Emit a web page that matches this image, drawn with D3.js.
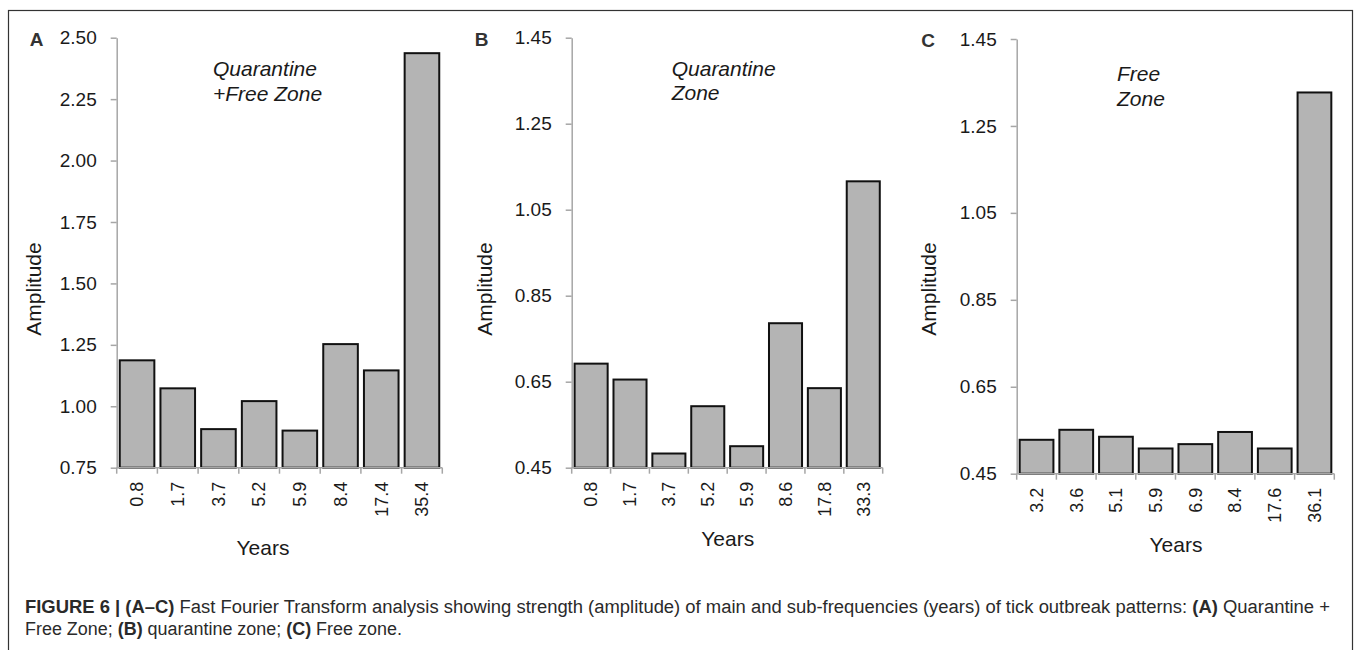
<!DOCTYPE html>
<html>
<head>
<meta charset="utf-8">
<script src="https://cdn.jsdelivr.net/npm/d3@7"></script>
<style>
  html, body { margin: 0; padding: 0; background: #fff; }
  svg { display: block; }
</style>
</head>
<body>
<svg id="chart" width="1356" height="650"></svg>
<script>
// ---- DATA ----
const catsA  = ["0.8", "1.7", "3.7", "5.2", "5.9", "8.4", "17.4", "35.4"];
const valsA  = [1.187, 1.073, 0.907, 1.021, 0.901, 1.253, 1.146, 2.437];
const ticksA = [0.75, 1.00, 1.25, 1.50, 1.75, 2.00, 2.25, 2.50];

const catsB  = ["0.8", "1.7", "3.7", "5.2", "5.9", "8.6", "17.8", "33.3"];
const valsB  = [0.692, 0.655, 0.483, 0.593, 0.500, 0.786, 0.635, 1.116];
const ticksB = [0.45, 0.65, 0.85, 1.05, 1.25, 1.45];

const catsC  = ["3.2", "3.6", "5.1", "5.9", "6.9", "8.4", "17.6", "36.1"];
const valsC  = [0.528, 0.551, 0.535, 0.508, 0.518, 0.546, 0.508, 1.327];
const ticksC = [0.45, 0.65, 0.85, 1.05, 1.25, 1.45];

const panelLetters = ["A", "B", "C"];
const annotations = [["Quarantine", "+Free Zone"], ["Quarantine", "Zone"], ["Free", "Zone"]];
const xTitle = "Years";
const yTitle = "Amplitude";

// ---- LAYOUT ----
const layouts = [
  { x0: 116.7, x1: 442.3, yTop: 37.7, yBot: 467.7, letterX: 36.7, letterY: 46, ampX: 41, ampY: 289,
    yearsX: 263, yearsY: 555, annX: 213, annY: [76, 100.7] },
  { x0: 571.7, x1: 882.7, yTop: 37.7, yBot: 467.7, letterX: 481.7, letterY: 46, ampX: 492, ampY: 289,
    yearsX: 727.7, yearsY: 546, annX: 671.7, annY: [75.5, 100] },
  { x0: 1016.7, x1: 1334.3, yTop: 39, yBot: 473.7, letterX: 928, letterY: 47, ampX: 936, ampY: 289,
    yearsX: 1176, yearsY: 552, annX: 1117, annY: [81, 106] }
];

const panels = [
  { cats: catsA, vals: valsA, ticks: ticksA },
  { cats: catsB, vals: valsB, ticks: ticksB },
  { cats: catsC, vals: valsC, ticks: ticksC }
];

const svg = d3.select("#chart");
const FONT = "'Liberation Sans', Arial, sans-serif";
const AXIS = "#a6a6a6";

// outer frame
svg.append("rect")
  .attr("x", 8.5).attr("y", 10.5).attr("width", 1344).attr("height", 650)
  .attr("fill", "none").attr("stroke", "#333").attr("stroke-width", 1.2);

panels.forEach((p, i) => {
  const L = layouts[i];
  const g = svg.append("g");

  const x = d3.scaleBand().domain(p.cats).range([L.x0, L.x1])
    .paddingInner(0.15).paddingOuter(0.075);
  const y = d3.scaleLinear().domain([p.ticks[0], p.ticks[p.ticks.length - 1]]).range([L.yBot, L.yTop]);

  // bars
  g.selectAll("rect.bar").data(p.vals).enter().append("rect")
    .attr("class", "bar")
    .attr("x", (d, j) => x(p.cats[j]))
    .attr("width", x.bandwidth())
    .attr("y", d => y(d))
    .attr("height", d => y(p.ticks[0]) - y(d))
    .attr("fill", "#b4b4b4")
    .attr("stroke", "#111")
    .attr("stroke-width", 2);

  // y axis
  const yAxis = d3.axisLeft(y).tickValues(p.ticks).tickFormat(d3.format(".2f"))
    .tickSize(6).tickSizeOuter(0).tickPadding(14);
  const ya = g.append("g").attr("transform", `translate(${L.x0},0)`).call(yAxis);
  ya.select(".domain").attr("stroke", AXIS).attr("stroke-width", 1.5);
  ya.selectAll(".tick line").attr("stroke", AXIS).attr("stroke-width", 1.5);
  ya.selectAll(".tick text").attr("font-family", FONT).attr("font-size", 19).attr("fill", "#1a1a1a");

  // x axis: line + boundary ticks
  const xa = g.append("g").attr("transform", `translate(0,${L.yBot})`);
  xa.append("line").attr("x1", L.x0).attr("x2", L.x1).attr("y1", 0).attr("y2", 0)
    .attr("stroke", AXIS).attr("stroke-width", 1.5);
  const step = x.step();
  const bounds = p.cats.map(c => x(c) - step * 0.075).concat([L.x1]);
  bounds[0] = L.x0;
  xa.selectAll("line.bt").data(bounds).enter().append("line").attr("class", "bt")
    .attr("x1", d => d).attr("x2", d => d).attr("y1", 0).attr("y2", 6)
    .attr("stroke", AXIS).attr("stroke-width", 1.5);
  xa.selectAll("text.cat").data(p.cats).enter().append("text").attr("class", "cat")
    .attr("transform", d => `translate(${x(d) + x.bandwidth() / 2},14) rotate(-90)`)
    .attr("text-anchor", "end").attr("dy", "0.35em")
    .attr("font-family", FONT).attr("font-size", 18).attr("fill", "#1a1a1a")
    .text(d => d);

  // titles
  g.append("text").attr("x", L.yearsX).attr("y", L.yearsY).attr("text-anchor", "middle")
    .attr("font-family", FONT).attr("font-size", 21).attr("fill", "#1a1a1a").text(xTitle);
  g.append("text").attr("transform", `translate(${L.ampX},${L.ampY}) rotate(-90)`)
    .attr("text-anchor", "middle")
    .attr("font-family", FONT).attr("font-size", 21).attr("fill", "#1a1a1a").text(yTitle);

  // panel letter
  g.append("text").attr("x", L.letterX).attr("y", L.letterY).attr("text-anchor", "middle")
    .attr("font-family", FONT).attr("font-size", 19).attr("font-weight", "bold")
    .attr("fill", "#333").text(panelLetters[i]);

  // annotation
  annotations[i].forEach((t, k) => {
    g.append("text").attr("x", L.annX).attr("y", L.annY[k])
      .attr("font-family", FONT).attr("font-size", 21).attr("font-style", "italic")
      .attr("fill", "#1a1a1a").text(t);
  });
});

// caption
const capFont = "'Liberation Sans', Arial, sans-serif";
const line1 = [
  ["FIGURE 6 | (A–C)", true], [" Fast Fourier Transform analysis showing strength (amplitude) of main and sub-frequencies (years) of tick outbreak patterns: ", false],
  ["(A)", true], [" Quarantine +", false]
];
const line2 = [["Free Zone; ", false], ["(B)", true], [" quarantine zone; ", false], ["(C)", true], [" Free zone.", false]];

function caption(parts, yPos, size) {
  const t = svg.append("text").attr("x", 25).attr("y", yPos)
    .attr("font-family", capFont).attr("font-size", size).attr("fill", "#2a2a2a")
    .attr("xml:space", "preserve");
  parts.forEach(([s, b]) => {
    t.append("tspan").attr("font-weight", b ? "bold" : "normal").text(s);
  });
  return t;
}
// size line 2 to match its measured width in the reference, then fit line 1
const t2 = caption(line2, 635, 16);
const w2 = t2.node().getComputedTextLength();
const capSize = 16 * 377 / w2;
t2.attr("font-size", capSize);
const t1 = caption(line1, 613, capSize);
t1.attr("textLength", 1305).attr("lengthAdjust", "spacingAndGlyphs");
</script>
</body>
</html>
